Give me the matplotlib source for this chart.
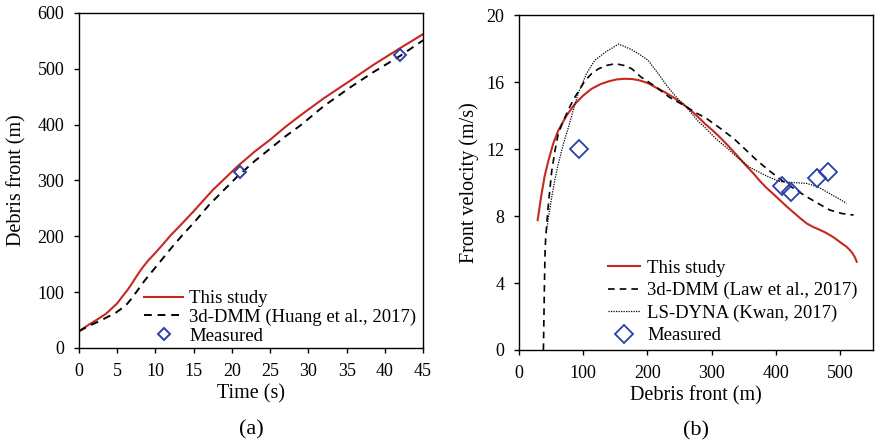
import matplotlib
matplotlib.use("Agg")
from matplotlib import pyplot as plt

plt.rcParams['font.family'] = ['Liberation Serif', 'DejaVu Serif']

# (a) debris front vs time
t_study = [0, 1.2, 2.5, 3.5, 4.3, 5.0, 5.6, 6.3, 6.9, 7.5, 8.2, 9.0, 9.9, 11.0, 12.0, 13.0, 13.9, 15.0, 17.5, 20.7, 23.0, 25.0, 27.0, 29.0, 32.0, 35.5, 38.5, 42.0, 45.0]
x_study = [30, 41, 52, 61, 71, 80, 91, 103, 115, 128, 142, 156, 169, 186, 202, 216, 229, 245, 283, 325, 352, 373, 396, 417, 447, 479, 507, 537, 562]
t_dmm = [0, 1.2, 2.5, 3.8, 4.8, 5.6, 6.3, 6.9, 7.7, 8.6, 9.5, 10.4, 12.0, 13.7, 15.0, 17.0, 20.7, 23.0, 25.0, 27.0, 29.0, 32.0, 35.5, 38.5, 42.0, 45.0]
x_dmm = [30, 39, 47, 56, 63, 71, 79, 89, 104, 121, 136, 151, 178, 205, 224, 256, 307, 335, 357, 379, 399, 433, 467, 494, 523, 551]
t_meas = [21, 42]
x_meas = [315, 525]

# (b) front velocity vs debris front
d_study = [29, 35, 40, 45.7, 53, 61, 74, 87, 100, 113, 127, 140, 152, 165, 177, 188, 200, 212, 226, 240, 253, 266, 278, 290, 302, 313, 327, 340, 352, 365, 375, 385, 396, 406, 417, 428, 438, 448, 458, 467, 476, 484, 491, 498, 504, 510, 515, 519, 523, 526]
v_study = [7.76, 9.3, 10.4, 11.3, 12.3, 13.1, 14.0, 14.7, 15.2, 15.6, 15.88, 16.05, 16.16, 16.2, 16.18, 16.1, 15.95, 15.7, 15.42, 15.1, 14.75, 14.37, 13.95, 13.5, 13.1, 12.7, 12.15, 11.6, 11.08, 10.55, 10.1, 9.7, 9.32, 8.96, 8.57, 8.2, 7.87, 7.56, 7.35, 7.2, 7.04, 6.87, 6.7, 6.5, 6.33, 6.17, 5.98, 5.8, 5.55, 5.27]
d_dmm = [38, 38.8, 39.6, 40.5, 41.5, 43, 45, 47, 51, 56, 61, 67, 74, 80, 87, 95, 103, 113, 124, 137, 150, 163, 175.5, 190, 212, 234, 256, 274, 292, 313, 334, 352, 370, 390, 412, 430, 448, 466, 484, 503, 521]
v_dmm = [0, 2.0, 4.0, 5.8, 6.7, 7.4, 8.4, 9.2, 10.7, 11.9, 12.9, 13.5, 14.1, 14.6, 15.1, 15.6, 16.1, 16.5, 16.8, 17.0, 17.1, 17.0, 16.8, 16.3, 15.75, 15.1, 14.63, 14.2, 13.83, 13.25, 12.64, 12.0, 11.34, 10.7, 10.05, 9.6, 9.15, 8.75, 8.36, 8.15, 8.06]
d_dyna = [43, 47, 51, 56, 61, 69, 77, 85, 92, 105, 118, 135, 155, 175, 190, 201, 215, 230, 245, 261, 278, 292, 307, 323, 340, 360, 385, 407, 428, 448, 465, 479, 495, 510]
v_dyna = [7.2, 8.2, 9.15, 10.2, 11.1, 12.3, 13.3, 14.4, 15.3, 16.5, 17.3, 17.8, 18.27, 17.95, 17.6, 17.3, 16.6, 15.8, 15.1, 14.5, 13.7, 13.2, 12.6, 12.1, 11.5, 10.9, 10.4, 10.05, 10.0, 9.95, 9.75, 9.45, 9.1, 8.76]
d_meas = [93, 410, 423, 464, 482]
v_meas = [12.0, 9.8, 9.45, 10.25, 10.65]

red = '#C8281E'
blue = '#2B3FA8'

fig = plt.figure(figsize=(8.8, 4.45), dpi=100)

ax1 = fig.add_axes([0.0898, 0.218, 0.391, 0.753])
ax1.plot(t_study, x_study, color=red, lw=1.5, label='This study')
ax1.plot(t_dmm, x_dmm, color='black', lw=1.4, ls=(0, (4, 3)), label='3d-DMM (Huang et al., 2017)')
ax1.plot(t_meas, x_meas, ls='none', marker='D', ms=6.5, mfc='none', mec=blue, mew=1.4, label='Measured')
ax1.set_xlim(0, 45)
ax1.set_ylim(0, 600)
ax1.set_xticks(range(0, 46, 5))
ax1.set_yticks(range(0, 601, 100))
ax1.set_xlabel('Time (s)', fontsize=14.5, labelpad=3)
ax1.set_ylabel('Debris front (m)', fontsize=14.5, labelpad=8)
ax1.legend(loc='lower left', bbox_to_anchor=(0.167, -0.012), frameon=False, fontsize=13.5,
           handlelength=2.1, handletextpad=0.3, labelspacing=0.08, borderaxespad=0)
ax1.text(0.5, -0.245, '(a)', transform=ax1.transAxes, ha='center', va='center', fontsize=16)

ax2 = fig.add_axes([0.5898, 0.2135, 0.402, 0.7525])
ax2.plot(d_study, v_study, color=red, lw=1.5, label='This study')
ax2.plot(d_dmm, v_dmm, color='black', lw=1.2, ls=(0, (4, 3)), label='3d-DMM (Law et al., 2017)')
ax2.plot(d_dyna, v_dyna, color='black', lw=0.9, ls=(0, (1, 1)), label='LS-DYNA (Kwan, 2017)')
ax2.plot(d_meas, v_meas, ls='none', marker='D', ms=9, mfc='none', mec=blue, mew=1.3, label='Measured')
ax2.set_xlim(0, 551)
ax2.set_ylim(0, 20)
ax2.set_xticks(range(0, 501, 100))
ax2.set_yticks(range(0, 21, 4))
ax2.set_xlabel('Debris front (m)', fontsize=14.5, labelpad=3)
ax2.set_ylabel('Front velocity (m/s)', fontsize=14.5, labelpad=5)
ax2.legend(loc='lower left', bbox_to_anchor=(0.23, -0.005), frameon=False, fontsize=13.5,
           handlelength=1.7, handletextpad=0.4, labelspacing=0.28, borderaxespad=0)
ax2.text(0.5, -0.24, '(b)', transform=ax2.transAxes, ha='center', va='center', fontsize=16)

for ax in (ax1, ax2):
    ax.tick_params(direction='out', length=3.6, width=1, pad=7, labelsize=13, top=False, right=False)
    for s in ax.spines.values():
        s.set_linewidth(1)

fig.savefig('out.png', dpi=100)
